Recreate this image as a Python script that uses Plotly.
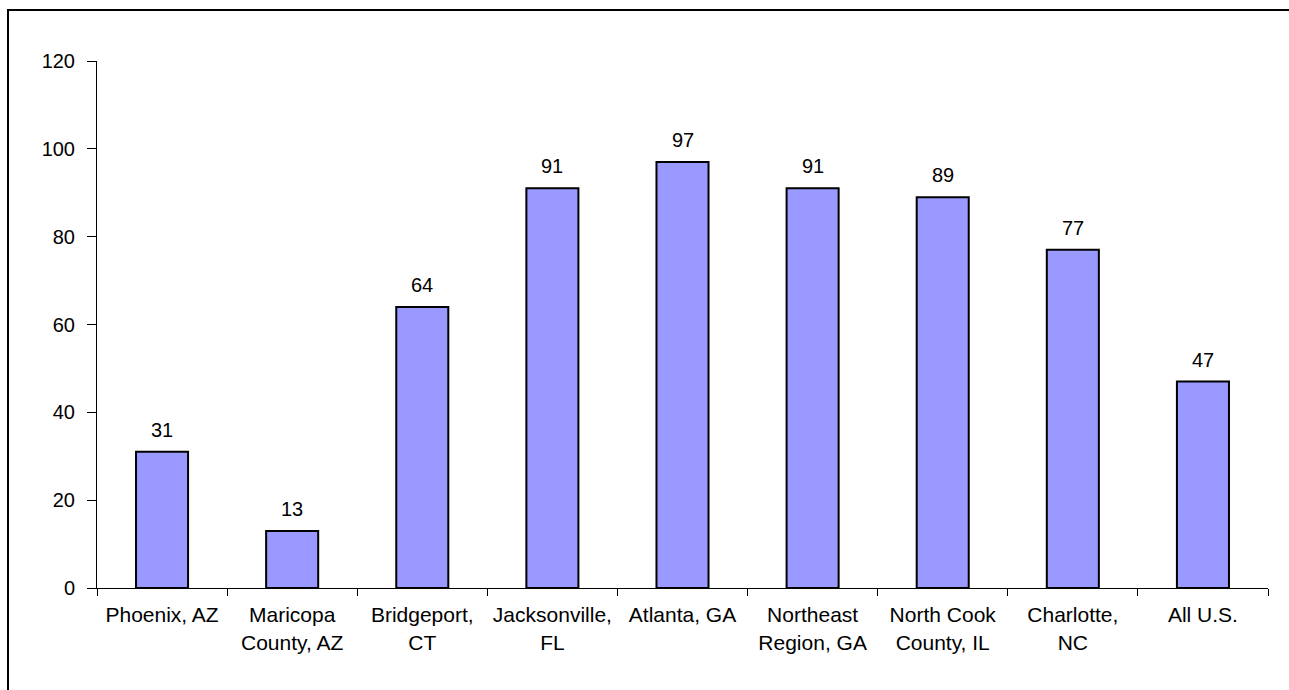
import plotly.graph_objects as go

# Categories and values
categories = [
    "Phoenix, AZ",
    "Maricopa<br>County, AZ",
    "Bridgeport,<br>CT",
    "Jacksonville,<br>FL",
    "Atlanta, GA",
    "Northeast<br>Region, GA",
    "North Cook<br>County, IL",
    "Charlotte,<br>NC",
    "All U.S.",
]
values = [31, 13, 64, 91, 97, 91, 89, 77, 47]
y_ticks = [0, 20, 40, 60, 80, 100, 120]

FONT = "Liberation Sans, Arial, sans-serif"
W, H = 1289, 690
ML, MR, MT, MB = 97, 21, 61, 102

fig = go.Figure()
fig.add_trace(go.Bar(
    x=categories,
    y=values,
    marker=dict(color="#9999FF", line=dict(color="black", width=2)),
    width=0.4,
    hoverinfo="x+y",
))

# value labels above each bar
for c, v in zip(categories, values):
    fig.add_annotation(
        x=c, y=v, text=str(v), showarrow=False,
        xref="x", yref="y", yanchor="bottom", yshift=9,
        font=dict(family=FONT, size=20, color="black"),
    )

# frame along the left and top of the chart area
pw = W - ML - MR
ph = H - MT - MB
x_left = (8 - ML) / pw
y_top = (H - MB - 10) / ph
fig.add_shape(
    type="path", xref="paper", yref="paper",
    path=f"M {x_left},-0.5 L {x_left},{y_top} L 1.2,{y_top}",
    line=dict(color="black", width=2),
)

fig.update_layout(
    width=W, height=H,
    margin=dict(l=ML, r=MR, t=MT, b=MB, pad=0),
    paper_bgcolor="white", plot_bgcolor="white",
    showlegend=False,
    font=dict(family=FONT, size=20, color="black"),
    xaxis=dict(
        type="category",
        showline=True, linecolor="black", linewidth=1,
        ticks="outside", ticklen=7, tickcolor="black", tickson="boundaries",
        ticklabelstandoff=8,
        showgrid=False, zeroline=False,
        tickfont=dict(family=FONT, size=21, color="black"),
    ),
    yaxis=dict(
        range=[0, 120], tickvals=y_ticks,
        showline=True, linecolor="black", linewidth=1,
        ticks="outside", ticklen=9, tickcolor="black",
        ticklabelstandoff=8,
        showgrid=False, zeroline=False,
        tickfont=dict(family=FONT, size=20, color="black"),
    ),
)

fig.write_html("out.html")
